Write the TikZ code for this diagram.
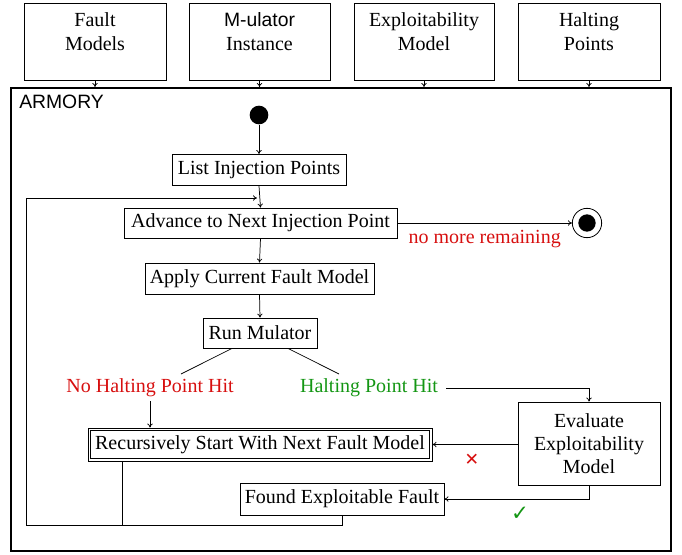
\documentclass[tikz,border=0pt]{standalone}
\usepackage{fontspec}
\setmainfont{Liberation Serif}
\setsansfont{Liberation Sans}
\newfontfamily\symfont{DejaVu Sans}
\usetikzlibrary{arrows.meta}
\begin{document}
\begin{tikzpicture}[x=0.75pt,y=-0.75pt,
  box/.style={draw, line width=0.6pt, inner sep=0pt, align=center, font=\fontsize{15}{17.5}\selectfont},
  intext/.style={inner sep=0pt, align=center, font=\fontsize{15}{17.5}\selectfont},
  lbl/.style={inner sep=1pt, font=\fontsize{15}{17.5}\selectfont},
  arr/.style={-{To[length=3pt,width=4pt]}, line width=0.55pt},
  ln/.style={line width=0.55pt}]
\useasboundingbox (0,0) rectangle (682,554);
% inputs
\node[box, minimum width=106.5pt, minimum height=57.75pt] (fm) at (95,41.5) {};
\node[intext] (fmt) at (95,31.5) {Fault\\Models};
\node[box, minimum width=105.75pt, minimum height=57.75pt] (mu) at (259.5,41.5) {};
\node[intext] (mut) at (259.5,31.5) {{\sffamily\fontsize{14.5}{17}\selectfont M-ulator}\\Instance};
\node[box, minimum width=105pt, minimum height=57.75pt] (em) at (424,41.5) {};
\node[intext] (emt) at (424,31.5) {Exploitability\\Model};
\node[box, minimum width=106.5pt, minimum height=57.75pt] (hp) at (589,41.5) {};
\node[intext] (hpt) at (589,31.5) {Halting\\Points};
% armory frame
\node[draw, line width=1.5pt, minimum width=495pt, minimum height=347.25pt, inner sep=0pt] (arm) at (341,319.5) {};
\node[anchor=north west, inner sep=0pt, font=\sffamily\fontsize{14.5}{17}\selectfont] (armlbl) at (19,95) {ARMORY};
\foreach \n in {fm,mu,em,hp} \draw[arr] (\n.south) -- (\n.south |- arm.north);
% flow
\node[circle, fill, minimum size=14pt, inner sep=0pt] (start) at (259,115) {};
\node[box, minimum width=130.5pt, minimum height=23.25pt] (list) at (259,170) {List Injection Points};
\node[box, minimum width=204.75pt, minimum height=22.5pt] (adv) at (260.5,223) {Advance to Next Injection Point};
\node[circle, draw, line width=0.6pt, minimum size=22pt, inner sep=0pt] (end) at (587,223) {};
\node[circle, fill, minimum size=13pt, inner sep=0pt] (endin) at (end) {};
\node[box, minimum width=171.75pt, minimum height=23.25pt] (apply) at (259.5,278.5) {Apply Current Fault Model};
\node[box, minimum width=85.5pt, minimum height=22.5pt] (run) at (260,333) {Run Mulator};
\node[lbl, text={rgb,255:red,215;green,15;blue,15}] (nohit) at (150,388) {No Halting Point Hit};
\node[lbl, text={rgb,255:red,20;green,150;blue,20}, inner xsep=6pt] (hit) at (369,388) {Halting Point Hit};
\node[box, minimum width=106.5pt, minimum height=62.25pt] (eval) at (589,443.5) {Evaluate\\Exploitability\\Model};
\node[box, minimum width=258pt, minimum height=24.75pt] (rec) at (260,444.5) {Recursively Start With Next Fault Model};
\draw[line width=0.6pt] ([shift={(2.25pt,2.25pt)}]rec.south west) rectangle ([shift={(-2.25pt,-2.25pt)}]rec.north east);
\node[box, minimum width=153pt, minimum height=24pt] (found) at (342,499) {Found Exploitable Fault};
\node[text={rgb,255:red,215;green,15;blue,15}, inner sep=0pt, font=\symfont\fontsize{13}{15}\selectfont] (cross) at (472,460) {✕};
\node[text={rgb,255:red,20;green,150;blue,20}, inner sep=0pt, font=\symfont\fontsize{16}{18}\selectfont] (check) at (520,514) {✓};
\coordinate (nl) at (181,374);
\coordinate (hl) at (339,374);
\coordinate (looptop) at (26,198);
\coordinate (loopbl) at (26,525);
\coordinate (recdrop) at (122,525);
\coordinate (loopend) at (257,198);
% connectors
\draw[arr] (start) -- (list.north);
\draw[arr] (list.south) -- (adv.north);
\draw[arr] (adv.east) -- (end.west) node[midway, below=4pt, lbl, text={rgb,255:red,215;green,15;blue,15}] (nomore) {no more remaining};
\draw[arr] (adv.south) -- (apply.north);
\draw[arr] (apply.south) -- (run.north);
\draw[ln] ([xshift=-21pt]run.south) -- (nl);
\draw[ln] ([xshift=21pt]run.south) -- (hl);
\draw[arr] (hit.east) -| (eval.north);
\draw[arr] ([yshift=-2pt]nohit.south) -- (nohit.south |- rec.north);
\draw[arr] (eval.west |- rec.east) -- (rec.east);
\draw[arr] (eval.south) |- (found.east);
\draw[ln] (recdrop |- rec.south) -- (recdrop);
\draw[ln] (found.south) -- (found.south |- loopbl) -- (loopbl);
\draw[arr] (loopbl) -- (looptop) -- (loopend);
\end{tikzpicture}
\end{document}
